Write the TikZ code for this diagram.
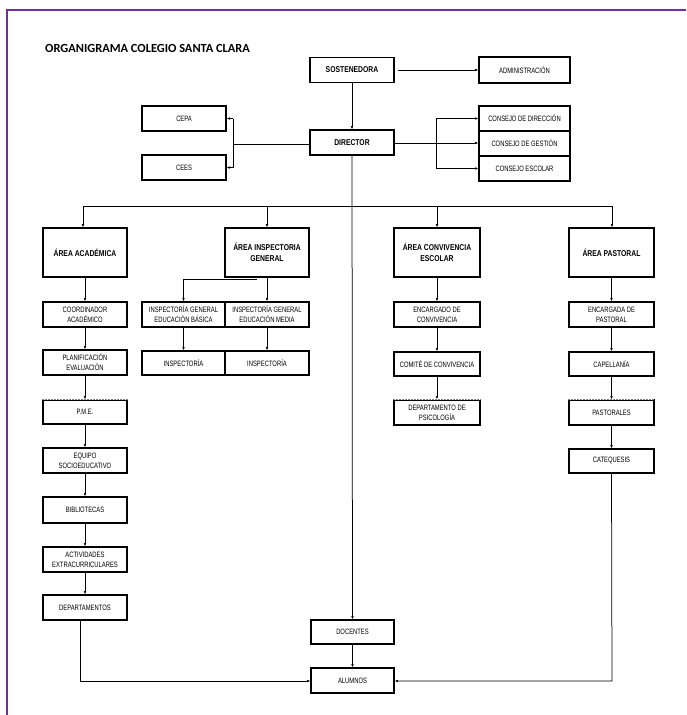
\documentclass[tikz,border=0pt]{standalone}
\usepackage{fontspec}
\setmainfont{Liberation Sans}
\newfontfamily\nrw[FakeStretch=0.75]{Liberation Sans}
\newfontfamily\nrwb[FakeStretch=0.8]{Liberation Sans}
\newfontfamily\titlefont{Carlito}
\usetikzlibrary{arrows.meta}
\definecolor{framepurple}{HTML}{7030A0}
\tikzset{
  box/.style={draw, line width=1.3pt, inner sep=0pt, align=center,
    font=\nrw\fontsize{7.8}{10}\selectfont, minimum height=25pt},
  bbox/.style={box, font=\nrwb\bfseries\fontsize{8.5}{11}\selectfont},
  conn/.style={line width=0.75pt},
  arr/.style={conn, -{Latex[length=3.2pt,width=2.6pt]}},
  erasetop/.style={draw=white, line width=1.5pt},
  dashtop/.style={draw=gray, line width=0.6pt, dash pattern=on 2pt off 1pt}
}
\begin{document}
\begin{tikzpicture}[x=1pt,y=-1pt]
\useasboundingbox (0,0) rectangle (686,715);
% frame
\draw[framepurple, line width=2.6pt] (7,715) -- (7,10) -- (686,10);
% title
\node[anchor=base west, inner sep=0pt, font=\titlefont\bfseries\fontsize{12.4}{14}\selectfont] (title) at (45,52) {ORGANIGRAMA COLEGIO SANTA CLARA};

% top level
\node[bbox, minimum width=84pt] (sost) at (352,70) {SOSTENEDORA};
\node[box, minimum width=91pt, minimum height=26pt] (admin) at (524.5,70) {ADMINISTRACIÓN};
\node[bbox, minimum width=84pt] (dir) at (352,142.5) {DIRECTOR};
\node[box, minimum width=91pt] (cdir) at (524.5,118.5) {CONSEJO DE DIRECCIÓN};
\node[box, minimum width=91pt] (cges) at (524.5,143.5) {CONSEJO DE GESTIÓN};
\node[box, minimum width=91pt] (cesc) at (524.5,168.5) {CONSEJO ESCOLAR};
\node[box, minimum width=84pt] (cepa) at (184,118.5) {CEPA};
\node[box, minimum width=84pt] (cees) at (184,167.5) {CEES};

% areas
\node[bbox, minimum width=84pt, minimum height=49pt] (aa) at (85,252.5) {ÁREA ACADÉMICA};
\node[bbox, minimum width=84pt, minimum height=49pt] (aig) at (267,252.5) {ÁREA INSPECTORIA\\GENERAL};
\node[bbox, minimum width=86pt, minimum height=49pt] (ace) at (437,252.5) {ÁREA CONVIVENCIA\\ESCOLAR};
\node[bbox, minimum width=85pt, minimum height=49pt] (ap) at (611.5,252.5) {ÁREA PASTORAL};

% academic column
\node[box, minimum width=84pt] (coord) at (85,314.5) {COORDINADOR\\ACADÉMICO};
\node[box, minimum width=84pt] (plan) at (85,362.5) {PLANIFICACIÓN\\EVALUACIÓN};
\node[box, minimum width=84pt, minimum height=24pt] (pme) at (85,412) {P.M.E.};
\node[box, minimum width=84pt] (equipo) at (85,460.5) {EQUIPO\\SOCIOEDUCATIVO};
\node[box, minimum width=84pt, minimum height=26pt] (biblio) at (85,510) {BIBLIOTECAS};
\node[box, minimum width=84pt] (activ) at (85,559.5) {ACTIVIDADES\\EXTRACURRICULARES};
\node[box, minimum width=84pt] (deptos) at (85,607.5) {DEPARTAMENTOS};

% inspectoria column
\node[box, minimum width=83pt] (igb) at (183.5,314.5) {INSPECTORÍA GENERAL\\EDUCACIÓN BÁSICA};
\node[box, minimum width=84pt] (igm) at (267,314.5) {INSPECTORÍA GENERAL\\EDUCACIÓN MEDIA};
\node[box, minimum width=83pt, minimum height=24pt] (insb) at (183.5,363) {INSPECTORÍA};
\node[box, minimum width=84pt, minimum height=24pt] (insm) at (267,363) {INSPECTORÍA};

% convivencia column
\node[box, minimum width=86pt] (encc) at (437,314.5) {ENCARGADO DE\\CONVIVENCIA};
\node[box, minimum width=86pt, minimum height=24pt] (comite) at (437,364) {COMITÉ DE CONVIVENCIA};
\node[box, minimum width=86pt] (psico) at (437,412.5) {DEPARTAMENTO DE\\PSICOLOGÍA};

% pastoral column
\node[box, minimum width=85pt] (encp) at (611.5,314.5) {ENCARGADA DE\\PASTORAL};
\node[box, minimum width=85pt, minimum height=24pt] (capel) at (611.5,364) {CAPELLANÍA};
\node[box, minimum width=85pt] (pastorales) at (611.5,412.5) {PASTORALES};
\node[box, minimum width=85pt, minimum height=24pt] (catq) at (611.5,461) {CATEQUESIS};

% bottom
\node[box, minimum width=83pt, minimum height=24pt] (doc) at (352.5,632) {DOCENTES};
\node[box, minimum width=83pt] (alum) at (352.5,680.5) {ALUMNOS};

% open-top boxes: erase the solid top edge and put a dashed one instead
\draw[erasetop] ([xshift=0.8pt]pme.north west) -- ([xshift=-0.8pt]pme.north east);
\draw[dashtop] (pme.north west) -- (pme.north east);
\draw[erasetop] ([xshift=0.8pt]psico.north west) -- ([xshift=-0.8pt]psico.north east);
\draw[dashtop] (psico.north west) -- (psico.north east);
\draw[erasetop] ([xshift=0.8pt]pastorales.north west) -- ([xshift=-0.8pt]pastorales.north east);
\draw[dashtop] (pastorales.north west) -- (pastorales.north east);

% connectors top
\draw[arr] ([xshift=3pt]sost.east) -- (admin.west);
\draw[arr] (sost.south) -- (dir.north);
\coordinate (cr) at (436,143);
\draw[conn] (dir.east |- cr) -- (cr);
\draw[conn] (cr |- cdir) -- (cr |- cesc);
\draw[arr] (cr |- cdir) -- (cdir.west);
\draw[arr] (cr) -- (cges.west |- cr);
\draw[arr] (cr |- cesc) -- (cesc.west);
\coordinate (cl) at (233,144);
\draw[conn] (dir.west |- cl) -- (cl);
\draw[conn] (cl |- cepa) -- (cl |- cees);
\draw[arr] (cl |- cepa) -- (cepa.east);
\draw[arr] (cl |- cees) -- (cees.east);

% bus
\coordinate (busl) at (83,206);
\coordinate (busr) at (612,206);
\draw[conn] (busl) -- (busr);
\draw[arr] (busl) -- (busl |- aa.north);
\draw[arr] (aig.north |- busl) -- (aig.north);
\draw[arr] (ace.north |- busl) -- (ace.north);
\draw[arr] (busr) -- (busr |- ap.north);
\draw[arr] (dir.south) -- (doc.north);

% academic chain
\draw[arr] (aa.south) -- (coord.north);
\draw[arr] (coord.south) -- (plan.north);
\draw[arr] (plan.south) -- (pme.north);
\draw[arr] (pme.south) -- (equipo.north);
\draw[arr] (equipo.south) -- (biblio.north);
\draw[arr] (biblio.south) -- (activ.north);
\draw[arr] (activ.south) -- (deptos.north);

% inspectoria chain
\coordinate (isplit) at (257,279);
\draw[conn] (isplit) -- (isplit -| igb.north);
\draw[arr] (isplit -| igb.north) -- (igb.north);
\draw[arr] (aig.south) -- (igm.north);
\draw[arr] (igb.south) -- (insb.north);
\draw[arr] (igm.south) -- (insm.north);

% convivencia chain
\draw[arr] (ace.south) -- (encc.north);
\draw[arr] (encc.south) -- (comite.north);
\draw[arr] (comite.south) -- (psico.north);

% pastoral chain
\draw[arr] (ap.south) -- (encp.north);
\draw[arr] (encp.south) -- (capel.north);
\draw[arr] (capel.south) -- (pastorales.north);
\draw[arr] (pastorales.south) -- (catq.north);

% to alumnos
\coordinate (lb) at (80,681);
\coordinate (rb) at (612,681);
\draw[arr] ([xshift=-5pt]deptos.south) -- (lb) -- (alum.west |- lb);
\draw[arr] (catq.south) -- (rb) -- (alum.east |- rb);
\draw[arr] (doc.south) -- (alum.north);
\end{tikzpicture}
\end{document}
